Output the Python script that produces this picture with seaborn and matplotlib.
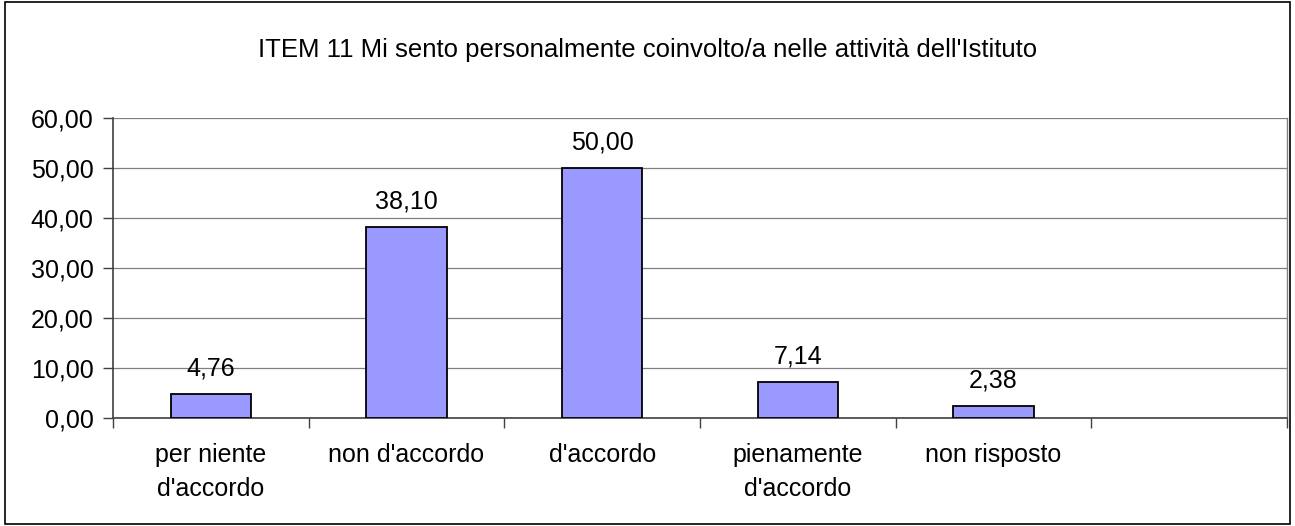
import matplotlib
matplotlib.use("Agg")
import matplotlib.pyplot as plt
from matplotlib.patches import Rectangle
from matplotlib.ticker import FixedLocator, FuncFormatter
import seaborn as sns
import pandas as pd

categories = ["per niente\nd'accordo", "non d'accordo", "d'accordo",
              "pienamente\nd'accordo", "non risposto"]
values = [4.76, 38.10, 50.00, 7.14, 2.38]
title = "ITEM 11 Mi sento personalmente coinvolto/a nelle attività dell'Istituto"

sns.set_theme(style="white")
plt.rcParams["font.family"] = ["Liberation Sans", "DejaVu Sans"]
plt.rcParams["text.color"] = "black"
plt.rcParams["xtick.color"] = "black"
plt.rcParams["ytick.color"] = "black"
plt.rcParams["xtick.labelcolor"] = "black"
plt.rcParams["ytick.labelcolor"] = "black"

FS = 18

fig = plt.figure(figsize=(12.95, 5.26), dpi=100)
fig.patches.append(Rectangle((0.004, 0.004), 0.992, 0.992, transform=fig.transFigure,
                             fill=False, edgecolor="black", linewidth=1.2, zorder=10))
ax = fig.add_axes([0.0873, 0.2053, 0.9065, 0.5704])

df = pd.DataFrame({"cat": categories, "val": values})
sns.barplot(data=df, x="cat", y="val", order=categories, color="#9999FF",
            saturation=1, width=0.41, edgecolor="black", linewidth=1.3, ax=ax,
            zorder=3)

ax.set_xlim(-0.5, 5.5)
ax.set_ylim(0, 60)
ax.set_yticks(range(0, 61, 10))
ax.yaxis.set_major_formatter(FuncFormatter(lambda v, p: f"{v:.2f}".replace(".", ",")))
ax.yaxis.grid(True, color="#808080", linewidth=0.9, zorder=0)
ax.set_axisbelow(True)

ax.set_xticks(range(len(categories)))
ax.set_xticklabels(categories, fontsize=FS, linespacing=1.55)
ax.xaxis.set_minor_locator(FixedLocator([i - 0.5 for i in range(7)]))
ax.tick_params(axis="x", which="major", length=0, pad=18)
ax.tick_params(axis="x", which="minor", length=7, width=1, color="#404040",
               direction="out", bottom=True)
ax.tick_params(axis="y", length=7, width=1, color="#404040", direction="out",
               left=True, labelsize=FS, pad=7)
ax.set_xlabel("")
ax.set_ylabel("")

for side in ["left", "bottom"]:
    ax.spines[side].set_color("#404040")
    ax.spines[side].set_linewidth(1.2)
ax.spines["right"].set_color("#808080")
ax.spines["right"].set_linewidth(1.0)
ax.spines["top"].set_visible(False)

for i, v in enumerate(values):
    ax.annotate(f"{v:.2f}".replace(".", ","), (i, v), xytext=(0, 10),
                textcoords="offset points", ha="center", va="bottom",
                fontsize=FS, color="black")

fig.text(0.5, 0.905, title, ha="center", va="center", fontsize=18.5)

fig.savefig("out.png", dpi=100)
